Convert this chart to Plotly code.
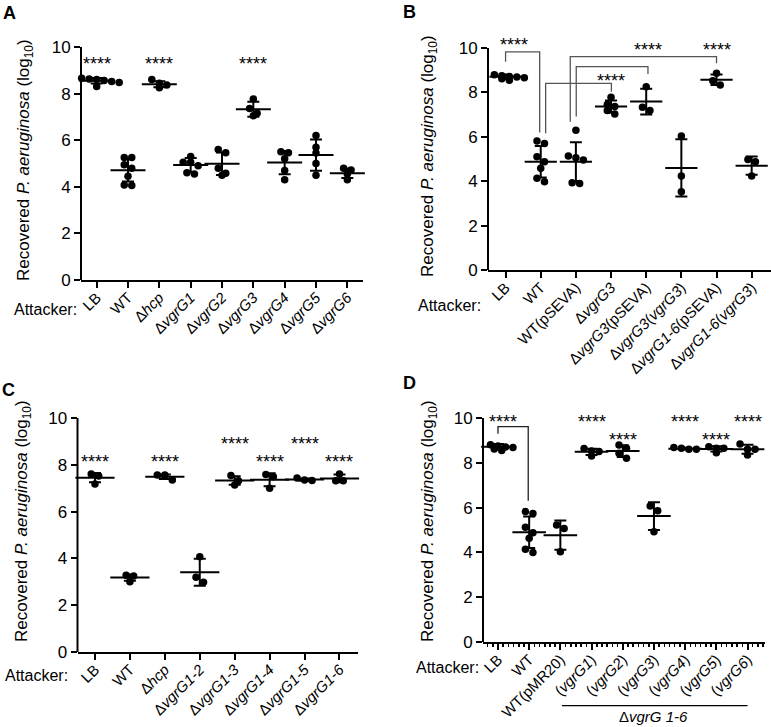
import plotly.graph_objects as go

W, H = 771, 727
FONT = "Arial, 'Liberation Sans', sans-serif"

# ---------------- data ----------------
catsA = ["LB", "WT", "Δ<i>hcp</i>", "Δ<i>vgrG1</i>", "Δ<i>vgrG2</i>", "Δ<i>vgrG3</i>",
         "Δ<i>vgrG4</i>", "Δ<i>vgrG5</i>", "Δ<i>vgrG6</i>"]
ptsA = [[8.68, 8.66, 8.63, 8.60, 8.56, 8.52, 8.48, 8.30],
        [5.26, 5.26, 4.94, 4.79, 4.45, 4.08, 4.05],
        [8.60, 8.44, 8.37, 8.25],
        [5.30, 5.05, 5.05, 4.90, 4.60, 4.55],
        [5.60, 5.46, 4.80, 4.58, 4.50],
        [7.77, 7.36, 7.15, 7.05],
        [5.50, 5.46, 5.20, 4.70, 4.30],
        [6.20, 5.70, 5.45, 5.00, 4.50],
        [4.80, 4.72, 4.55, 4.30]]
meanA = [8.55, 4.71, 8.40, 4.93, 4.99, 7.33, 5.04, 5.36, 4.58]
sdA = [0.12, 0.48, 0.13, 0.30, 0.48, 0.32, 0.50, 0.67, 0.20]
starsA = [(0, 9.47), (2, 9.47), (5, 9.47)]

catsB = ["LB", "WT", "WT(pSEVA)", "Δ<i>vgrG3</i>", "Δ<i>vgrG3</i>(pSEVA)",
         "Δ<i>vgrG3</i>(<i>vgrG3</i>)", "Δ<i>vgrG1-6</i>(pSEVA)", "Δ<i>vgrG1-6</i>(<i>vgrG3</i>)"]
ptsB = [[8.90, 8.80, 8.75, 8.72, 8.70, 8.66, 8.62, 8.55],
        [5.81, 5.70, 5.10, 4.88, 4.58, 4.13, 3.98],
        [6.30, 5.14, 5.06, 4.95, 3.93, 3.90],
        [7.78, 7.45, 7.36, 7.18, 7.03],
        [8.26, 7.33, 7.18],
        [6.04, 4.23, 3.53],
        [8.86, 8.53, 8.33],
        [4.98, 4.88, 4.23]]
meanB = [8.71, 4.88, 4.88, 7.36, 7.59, 4.60, 8.57, 4.70]
sdB = [0.10, 0.71, 0.88, 0.28, 0.58, 1.29, 0.24, 0.41]
starsB = [(0.23, 10.36), (3.0, 8.72), (4.05, 10.12), (6.0, 10.12)]
# brackets: (x_left, y_left_bottom, x_right, y_right_bottom, y_top)
bracketsB = [(0.0, 9.38, 0.97, 6.19, 9.83),
             (1.14, 6.16, 3.01, 8.03, 8.41),
             (2.01, 6.91, 4.05, 8.83, 9.16),
             (1.84, 6.68, 6.0, 9.31, 9.61)]

catsC = ["LB", "WT", "Δ<i>hcp</i>", "Δ<i>vgrG1-2</i>", "Δ<i>vgrG1-3</i>",
         "Δ<i>vgrG1-4</i>", "Δ<i>vgrG1-5</i>", "Δ<i>vgrG1-6</i>"]
ptsC = [[7.61, 7.52, 7.18],
        [3.28, 3.25, 3.00],
        [7.56, 7.56, 7.35],
        [4.07, 3.19, 2.98],
        [7.54, 7.32, 7.14],
        [7.59, 7.49, 7.00],
        [7.44, 7.35, 7.33],
        [7.61, 7.32, 7.32]]
meanC = [7.45, 3.18, 7.49, 3.41, 7.33, 7.36, 7.37, 7.42]
sdC = [0.20, 0.13, 0.10, 0.58, 0.18, 0.28, 0.05, 0.17]
starsC = [(0, 8.35), (2, 8.35), (4, 9.09), (5, 8.35), (6, 9.09), (7, 8.35)]

catsD = ["LB", "WT", "WT(pMR20)", "(<i>vgrG1</i>)", "(<i>vgrG2</i>)", "(<i>vgrG3</i>)",
         "(<i>vgrG4</i>)", "(<i>vgrG5</i>)", "(<i>vgrG6</i>)"]
ptsD = [[8.92, 8.80, 8.75, 8.70, 8.68, 8.62, 8.55],
        [5.82, 5.74, 5.12, 4.88, 4.63, 4.14, 3.99],
        [5.22, 5.07, 4.03],
        [8.64, 8.52, 8.50, 8.30],
        [8.79, 8.65, 8.42, 8.20],
        [6.07, 5.86, 4.92],
        [8.68, 8.65, 8.60, 8.60],
        [8.72, 8.65, 8.65, 8.45],
        [8.84, 8.60, 8.60, 8.35]]
meanD = [8.72, 4.90, 4.77, 8.49, 8.52, 5.62, 8.63, 8.62, 8.60]
sdD = [0.12, 0.70, 0.65, 0.14, 0.26, 0.62, 0.04, 0.12, 0.20]
starsD = [(0.15, 10.06), (3, 10.06), (4, 9.24), (6, 10.06), (7, 9.24), (8, 10.06)]
bracketsD = [(0.0, 9.29, 0.97, 6.31, 9.61)]

# ---------------- layout geometry (pixels) ----------------
panels = [
    dict(name="A", cats=catsA, pts=ptsA, mean=meanA, sd=sdA, stars=starsA, br=[],
         xpx=(81, 363), xr=(-0.5, 8.5), ybot=280, ytop=35.3, yr=(0, 10.5), mw=25,
         letter=(1, 1), ytitle=(25, 160), attacker=(45, 310)),
    dict(name="B", cats=catsB, pts=ptsB, mean=meanB, sd=sdB, stars=starsB, br=bracketsB,
         xpx=(488, 771), xr=(-0.5, 7.55), ybot=270, ytop=34.7, yr=(0, 10.6), mw=23,
         letter=(401, 0), ytitle=(429, 156), attacker=(449, 305)),
    dict(name="C", cats=catsC, pts=ptsC, mean=meanC, sd=sdC, stars=starsC, br=[],
         xpx=(77.5, 358), xr=(-0.5, 7.53), ybot=652, ytop=411, yr=(0, 10.3), mw=28,
         letter=(0, 378), ytitle=(23, 521), attacker=(36, 675)),
    dict(name="D", cats=catsD, pts=ptsD, mean=meanD, sd=sdD, stars=starsD, br=bracketsD,
         xpx=(483, 765), xr=(-0.48, 8.56), ybot=642, ytop=409, yr=(0, 10.4), mw=24,
         letter=(401, 371), ytitle=(429, 521), attacker=(447, 667)),
]


def swarm(vals, pxy, pxx, d=7.5):
    """Simple beeswarm: group close values into rows, centre each row."""
    order = sorted(range(len(vals)), key=lambda i: -vals[i])
    rows = []
    for i in order:
        if rows and (vals[rows[-1][0]] - vals[i]) * pxy < d * 0.75:
            rows[-1].append(i)
        else:
            rows.append([i])
    offs = [0.0] * len(vals)
    for r in rows:
        n = len(r)
        for k, i in enumerate(r):
            offs[i] = (k - (n - 1) / 2) * d / pxx
    return offs


fig = go.Figure()
shapes = []
annotations = []
layout = {}

for pi, p in enumerate(panels):
    sfx = "" if pi == 0 else str(pi + 1)
    xa, ya = "x" + sfx, "y" + sfx
    n = len(p["cats"])
    x0p, x1p = p["xpx"]
    pxx = (x1p - x0p) / (p["xr"][1] - p["xr"][0])
    pxy = (p["ybot"] - p["ytop"]) / (p["yr"][1] - p["yr"][0])

    # mean + SD
    fig.add_trace(go.Scatter(
        x=list(range(n)), y=p["mean"], xaxis=xa, yaxis=ya, mode="markers",
        marker=dict(symbol="line-ew", size=p["mw"], color="black",
                    line=dict(width=2, color="black")),
        error_y=dict(type="data", array=p["sd"], visible=True, thickness=2,
                     width=6, color="black"),
        showlegend=False, hoverinfo="skip", cliponaxis=False))

    # individual points
    xs, ys = [], []
    for i, vals in enumerate(p["pts"]):
        offs = swarm(vals, pxy, pxx)
        for v, o in zip(vals, offs):
            xs.append(i + o)
            ys.append(v)
    fig.add_trace(go.Scatter(
        x=xs, y=ys, xaxis=xa, yaxis=ya, mode="markers",
        marker=dict(symbol="circle", size=7.5, color="black"),
        showlegend=False, cliponaxis=False))

    xkey = "xaxis" + sfx
    ykey = "yaxis" + sfx
    xaxis = dict(
        domain=[x0p / W, min(x1p / W, 1.0)], anchor=ya, range=list(p["xr"]),
        tickmode="array", tickvals=list(range(n)), ticktext=p["cats"],
        tickangle=-45, ticks="outside", ticklen=6, tickwidth=2, tickcolor="black",
        ticklabelstandoff=-5, ticklabelshift=0,
        showline=True, linewidth=2, linecolor="black", showgrid=False,
        zeroline=False, automargin=False,
        tickfont=dict(family=FONT, size=15, color="black"))
    if p["name"] == "D":
        xaxis["minor"] = dict(tickmode="linear", tick0=0, dtick=1 / 6, ticks="outside",
                              ticklen=3, tickwidth=1.5, tickcolor="black", showgrid=False)
    layout[xkey] = xaxis
    layout[ykey] = dict(
        domain=[1 - p["ybot"] / H, 1 - p["ytop"] / H], anchor=xa, range=list(p["yr"]),
        tickmode="array", tickvals=[0, 2, 4, 6, 8, 10], ticks="outside", ticklen=6,
        tickwidth=2, tickcolor="black", showline=False, showgrid=False,
        zeroline=False, automargin=False,
        tickfont=dict(family=FONT, size=17, color="black"))

    # y-axis line from 0 to 10
    shapes.append(dict(type="line", xref=xa + " domain", yref=ya, x0=0, x1=0, y0=0, y1=10,
                       line=dict(color="black", width=2)))

    # brackets
    bcol = "#555555" if p["name"] == "B" else "#222222"
    for (xl, yl, xr_, yr_, yt) in p["br"]:
        shapes.append(dict(type="path", xref=xa, yref=ya,
                           path=f"M {xl},{yl} L {xl},{yt} L {xr_},{yt} L {xr_},{yr_}",
                           line=dict(color=bcol, width=1.3)))

    # significance stars
    for (cx, cy) in p["stars"]:
        annotations.append(dict(x=cx, y=cy, xref=xa, yref=ya, text="****",
                                showarrow=False, yshift=-5,
                                font=dict(family=FONT, size=18, color="black")))

    # panel letter
    lx, ly = p["letter"]
    annotations.append(dict(x=lx / W, y=1 - ly / H, xref="paper", yref="paper",
                            xanchor="left", yanchor="top", text="<b>" + p["name"] + "</b>",
                            showarrow=False, font=dict(family=FONT, size=18, color="black")))
    # y title
    tx, ty = p["ytitle"]
    annotations.append(dict(x=tx / W, y=1 - ty / H, xref="paper", yref="paper",
                            xanchor="center", yanchor="middle", textangle=-90,
                            text="Recovered <i>P. aeruginosa</i> (log<sub>10</sub>)",
                            showarrow=False, font=dict(family=FONT, size=17, color="black")))
    # Attacker:
    axp, ayp = p["attacker"]
    annotations.append(dict(x=axp / W, y=1 - ayp / H, xref="paper", yref="paper",
                            xanchor="center", yanchor="middle", text="Attacker:",
                            showarrow=False, font=dict(family=FONT, size=16, color="black")))

# D underline group label
shapes.append(dict(type="line", xref="x4", yref="paper", x0=2.05, x1=8.0,
                   y0=1 - 705.7 / H, y1=1 - 705.7 / H, line=dict(color="black", width=1.3)))
annotations.append(dict(x=5.0, y=0, xref="x4", yref="paper", yshift=1,
                        xanchor="center", yanchor="bottom", text="Δ<i>vgrG 1-6</i>",
                        showarrow=False, borderpad=0,
                        font=dict(family=FONT, size=15, color="black")))

fig.update_layout(
    width=W, height=H, margin=dict(l=0, r=0, t=0, b=0),
    paper_bgcolor="white", plot_bgcolor="white",
    shapes=shapes, annotations=annotations, showlegend=False,
    font=dict(family=FONT, color="black"),
    **layout)

fig.write_html("out.html",
               config={"displayModeBar": False, "staticPlot": True},
               post_script="document.body.style.margin='0px';"
                           "document.body.style.overflow='hidden';")
